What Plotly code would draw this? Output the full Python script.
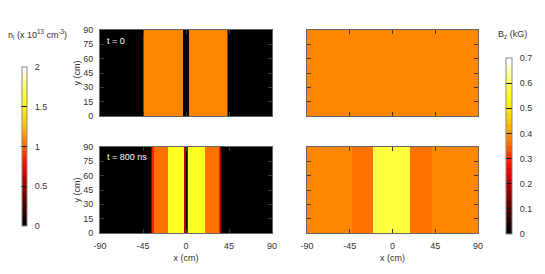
import plotly.graph_objects as go

# ---------------- data ----------------
y_edges = [0, 90]

# ion density n_i (x 1e13 cm^-3), t = 0
n0_x_edges = [-90, -44.5, -43.6, -3.6, -2.8, 2.8, 3.6, 43.4, 44.3, 90]
n0_vals = [0.0, 0.75, 1.10, 0.75, 0.0, 0.75, 1.10, 0.75, 0.0]

# ion density, t = 800 ns
n1_x_edges = [-90, -36.2, -35.2, -33.8, -18.8, -2.2, -0.4, 0.6, 2.2, 19.9, 34.6, 35.6, 36.6, 90]
n1_vals = [0.0, 0.45, 0.85, 1.04, 1.62, 0.62, 0.05, 0.62, 1.62, 1.04, 0.85, 0.45, 0.0]

# magnetic field B_z (kG), t = 0
b0_x_edges = [-90, -45.5, -2.6, 2.6, 44.5, 90]
b0_vals = [0.385, 0.372, 0.382, 0.372, 0.385]

# magnetic field B_z (kG), t = 800 ns
b1_x_edges = [-90, -42.9, -20.8, -19.6, 18.4, 41.3, 90]
b1_vals = [0.382, 0.355, 0.62, 0.59, 0.355, 0.382]

x_ticks = [-90, -45, 0, 45, 90]
y_ticks = [0, 15, 30, 45, 60, 75, 90]
n_ticks = [0, 0.5, 1, 1.5, 2]
n_tick_text = ["0", "0.5", "1", "1.5", "2"]
b_ticks = [0, 0.1, 0.2, 0.3, 0.4, 0.5, 0.6, 0.7]
b_tick_text = ["0", "0.1", "0.2", "0.3", "0.4", "0.5", "0.6", "0.7"]

# ---------------- style ----------------
anchors = [
    (0.00, (0, 0, 0)),
    (0.10, (0x40, 0, 0)),
    (0.25, (0xa0, 0, 0)),
    (0.33, (0xe0, 0, 0)),
    (0.40, (0xff, 0x10, 0)),
    (0.45, (0xff, 0x38, 0)),
    (0.50, (0xff, 0x68, 0)),
    (0.57, (0xff, 0x94, 0)),
    (0.64, (0xff, 0xc0, 0)),
    (0.71, (0xff, 0xe4, 0)),
    (0.79, (0xff, 0xff, 0x10)),
    (0.86, (0xff, 0xff, 0x50)),
    (0.93, (0xff, 0xff, 0xa0)),
    (1.00, (0xff, 0xff, 0xff)),
]


def interp(t):
    for (a, ca), (b, cb) in zip(anchors[:-1], anchors[1:]):
        if a <= t <= b:
            f = (t - a) / (b - a) if b > a else 0
            return tuple(round(ca[i] + f * (cb[i] - ca[i])) for i in range(3))
    return anchors[-1][1]


NSTEP = 32
cscale = []
for k in range(NSTEP):
    c = interp(k / (NSTEP - 1))
    col = "rgb(%d,%d,%d)" % c
    cscale.append([k / NSTEP, col])
    cscale.append([(k + 1) / NSTEP, col])

OFF = 8  # page body margin
W, H = 545 - OFF, 274 - OFF
FONT = "Liberation Sans, Arial, sans-serif"
TXT = "#333333"
NB = "\u00a0"


def px(x):
    return (x - OFF) / W


def py(y):
    return 1 - (y - OFF) / H


fig = go.Figure()
fig.add_trace(go.Heatmap(x=n0_x_edges, y=y_edges, z=[n0_vals], coloraxis="coloraxis",
                         xaxis="x", yaxis="y", hoverinfo="skip"))
fig.add_trace(go.Heatmap(x=b0_x_edges, y=y_edges, z=[b0_vals], coloraxis="coloraxis2",
                         xaxis="x2", yaxis="y2", hoverinfo="skip"))
fig.add_trace(go.Heatmap(x=n1_x_edges, y=y_edges, z=[n1_vals], coloraxis="coloraxis",
                         xaxis="x3", yaxis="y3", hoverinfo="skip"))
fig.add_trace(go.Heatmap(x=b1_x_edges, y=y_edges, z=[b1_vals], coloraxis="coloraxis2",
                         xaxis="x4", yaxis="y4", hoverinfo="skip"))

xl = [px(100), px(272)]
xr = [px(307), px(478)]
yt = [py(116), py(30)]
yb = [py(233), py(147)]

common = dict(showline=True, linecolor="#666666", linewidth=1, mirror="ticks",
              ticks="inside", ticklen=4, tickcolor="#3a3a3a", tickwidth=1,
              showgrid=False, zeroline=False, automargin=False,
              tickfont=dict(family=FONT, size=9, color=TXT))

xa = dict(common, range=[-90, 90], tickvals=x_ticks, ticktext=[str(v) for v in x_ticks])
ya = dict(common, range=[0, 90], tickvals=y_ticks, ticktext=[str(v) for v in y_ticks])

fig.update_layout(
    xaxis=dict(xa, domain=xl, anchor="y", showticklabels=False),
    yaxis=dict(ya, domain=yt, anchor="x", ticklabelstandoff=4,
               title=dict(text="y (cm)", font=dict(family=FONT, size=9, color=TXT), standoff=1)),
    xaxis2=dict(xa, domain=xr, anchor="y2", showticklabels=False),
    yaxis2=dict(ya, domain=yt, anchor="x2", showticklabels=False),
    xaxis3=dict(xa, domain=xl, anchor="y3", ticklabelstandoff=4,
                title=dict(text="x (cm)", font=dict(family=FONT, size=9, color=TXT), standoff=4)),
    yaxis3=dict(ya, domain=yb, anchor="x3", ticklabelstandoff=4,
                title=dict(text="y (cm)", font=dict(family=FONT, size=9, color=TXT), standoff=1)),
    xaxis4=dict(xa, domain=xr, anchor="y4", ticklabelstandoff=4,
                title=dict(text="x (cm)", font=dict(family=FONT, size=9, color=TXT), standoff=4)),
    yaxis4=dict(ya, domain=yb, anchor="x4", showticklabels=False),
    coloraxis=dict(
        colorscale=cscale, cmin=0, cmax=2,
        colorbar=dict(
            x=px(22), xanchor="left", xref="paper", xpad=0, ypad=0,
            y=py(146.5), yanchor="middle", lenmode="pixels", len=159,
            thickness=5, thicknessmode="pixels",
            outlinecolor="#888888", outlinewidth=1,
            tickvals=n_ticks, ticktext=[NB * 2 + t for t in n_tick_text],
            ticks="inside", ticklen=6, tickcolor="#111111",
            tickfont=dict(family=FONT, size=9, color=TXT),
        ),
    ),
    coloraxis2=dict(
        colorscale=cscale, cmin=0, cmax=0.7,
        colorbar=dict(
            x=px(506), xanchor="left", xref="paper", xpad=0, ypad=0,
            y=py(146), yanchor="middle", lenmode="pixels", len=176,
            thickness=6, thicknessmode="pixels",
            outlinecolor="#888888", outlinewidth=1,
            tickvals=b_ticks, ticktext=[NB * 2 + t for t in b_tick_text],
            ticks="inside", ticklen=6, tickcolor="#111111",
            tickfont=dict(family=FONT, size=9, color=TXT),
        ),
    ),
    width=W, height=H,
    margin=dict(l=0, r=0, t=0, b=0, autoexpand=False),
    paper_bgcolor="white", plot_bgcolor="black",
    showlegend=False,
    annotations=[
        dict(text="t = 0", x=px(105), y=py(41), xref="paper", yref="paper",
             xanchor="left", yanchor="middle", showarrow=False,
             font=dict(family=FONT, size=9, color="white")),
        dict(text="t = 800 ns", x=px(105), y=py(157), xref="paper", yref="paper",
             xanchor="left", yanchor="middle", showarrow=False,
             font=dict(family=FONT, size=9, color="white")),
        dict(text="n<sub>i</sub> (x 10<sup>13</sup> cm<sup>-3</sup>)", x=px(37), y=py(35),
             xref="paper", yref="paper", xanchor="center", yanchor="middle", showarrow=False,
             font=dict(family=FONT, size=9, color=TXT)),
        dict(text="B<sub>z</sub> (kG)", x=px(512), y=py(35),
             xref="paper", yref="paper", xanchor="center", yanchor="middle", showarrow=False,
             font=dict(family=FONT, size=9, color=TXT)),
    ],
)

fig.write_html("out.html")
